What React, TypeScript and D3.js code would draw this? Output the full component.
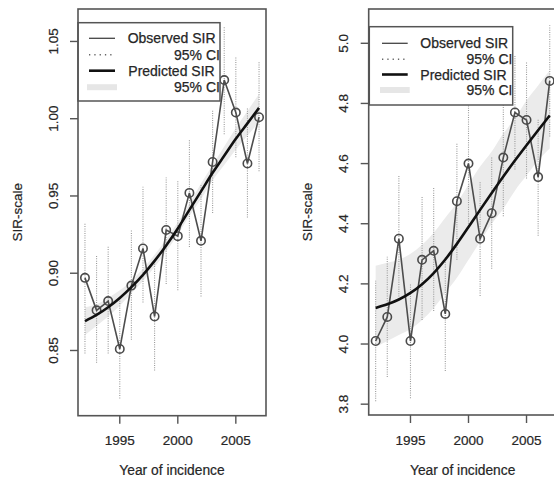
import * as d3 from 'd3';

const years = [1992, 1993, 1994, 1995, 1996, 1997, 1998, 1999, 2000, 2001, 2002, 2003, 2004, 2005, 2006, 2007];
const xTicks = [1995, 2000, 2005];

// left panel
const obsA = [0.897, 0.876, 0.882, 0.851, 0.892, 0.916, 0.872, 0.928, 0.924, 0.952, 0.921, 0.972, 1.025, 1.004, 0.971, 1.001];
const loA = [0.848, 0.842, 0.848, 0.819, 0.857, 0.881, 0.837, 0.893, 0.889, 0.917, 0.885, 0.939, 0.990, 0.975, 0.936, 0.966];
const hiA = [0.932, 0.912, 0.918, 0.883, 0.928, 0.956, 0.908, 0.962, 0.960, 0.986, 0.957, 1.006, 1.060, 1.040, 1.007, 1.037];
const predA = [0.869, 0.873, 0.878, 0.884, 0.891, 0.899, 0.908, 0.918, 0.929, 0.941, 0.953, 0.965, 0.976, 0.987, 0.997, 1.007];
const bandLoA = [0.860, 0.866, 0.872, 0.879, 0.887, 0.895, 0.904, 0.914, 0.925, 0.937, 0.948, 0.960, 0.970, 0.980, 0.989, 0.998];
const bandHiA = [0.878, 0.880, 0.884, 0.889, 0.895, 0.903, 0.912, 0.922, 0.933, 0.945, 0.958, 0.970, 0.982, 0.994, 1.005, 1.016];
const yTicksA = [0.85, 0.9, 0.95, 1.0, 1.05];

// right panel
const obsB = [4.01, 4.09, 4.35, 4.01, 4.28, 4.31, 4.10, 4.475, 4.60, 4.35, 4.435, 4.62, 4.77, 4.745, 4.555, 4.875];
const loB = [3.81, 3.89, 4.15, 3.82, 4.08, 4.11, 3.91, 4.28, 4.40, 4.16, 4.25, 4.425, 4.58, 4.55, 4.36, 4.69];
const hiB = [4.21, 4.29, 4.56, 4.20, 4.49, 4.52, 4.29, 4.67, 4.80, 4.54, 4.62, 4.81, 4.96, 4.94, 4.75, 5.06];
const predB = [4.12, 4.132, 4.148, 4.170, 4.199, 4.236, 4.281, 4.333, 4.389, 4.446, 4.502, 4.557, 4.610, 4.661, 4.711, 4.760];
const bandLoB = [3.99, 4.01, 4.03, 4.05, 4.08, 4.12, 4.17, 4.22, 4.28, 4.34, 4.40, 4.45, 4.51, 4.56, 4.61, 4.65];
const bandHiB = [4.26, 4.27, 4.28, 4.30, 4.33, 4.37, 4.42, 4.47, 4.53, 4.59, 4.64, 4.70, 4.75, 4.81, 4.86, 4.91];
const yTicksB = [3.8, 4.0, 4.2, 4.4, 4.6, 4.8, 5.0];

const legendLabels = ['Observed SIR', '95% CI', 'Predicted SIR', '95% CI'];

const FONT = 'Liberation Sans, Arial, Helvetica, sans-serif';
const TXT = '#262626';
const BOX = '#555';

type PanelProps = {
  id: string;
  x0: number; x1: number; y0: number; y1: number;
  yDomain: [number, number];
  yTicks: number[];
  fmt: string;
  obs: number[]; lo: number[]; hi: number[];
  pred: number[]; bandLo: number[]; bandHi: number[];
  leg: { x0: number; x1: number; y0: number; y1: number; rows: number[]; tx: number[]; sx: [number, number] };
};

function Panel(p: PanelProps) {
  const x = d3.scaleLinear().domain([1991.4, 2007.6]).range([p.x0, p.x1]);
  const y = d3.scaleLinear().domain(p.yDomain).range([p.y1, p.y0]);
  const f = d3.format(p.fmt);
  const idx = years.map((_, i) => i);

  const area = d3.area<number>()
    .x(i => x(years[i]))
    .y0(i => y(p.bandLo[i]))
    .y1(i => y(p.bandHi[i]))
    .curve(d3.curveMonotoneX);
  const predLine = d3.line<number>().x(i => x(years[i])).y(i => y(p.pred[i])).curve(d3.curveMonotoneX);
  const obsLine = d3.line<number>().x(i => x(years[i])).y(i => y(p.obs[i]));

  const cx = (p.x0 + p.x1) / 2;
  const cy = (p.y0 + p.y1) / 2;
  const L = p.leg;

  return (
    <g>
      <defs>
        <clipPath id={`leg-${p.id}`}>
          <rect x={L.x0} y={L.y0} width={L.x1 - L.x0 - 1} height={L.y1 - L.y0} />
        </clipPath>
      </defs>
      <path d={area(idx) || ''} fill="#ebebeb" />
      {idx.map(i => (
        <line key={i} x1={x(years[i])} x2={x(years[i])} y1={y(p.lo[i])} y2={y(p.hi[i])}
          stroke="#9a9a9a" strokeWidth={1.1} strokeDasharray="1,1.3" />
      ))}
      <path d={obsLine(idx) || ''} fill="none" stroke="#4d4d4d" strokeWidth={1.6} />
      {idx.map(i => (
        <circle key={i} cx={x(years[i])} cy={y(p.obs[i])} r={4.2} fill="none" stroke="#4a4a4a" strokeWidth={1.6} />
      ))}
      <path d={predLine(idx) || ''} fill="none" stroke="#111" strokeWidth={2.6} />

      {/* legend */}
      <rect x={L.x0} y={L.y0} width={L.x1 - L.x0} height={L.y1 - L.y0} fill="#fff" stroke={BOX} strokeWidth={1.5} />
      <line x1={L.sx[0]} x2={L.sx[1]} y1={L.rows[0]} y2={L.rows[0]} stroke="#444" strokeWidth={1.3} />
      <line x1={L.sx[0]} x2={L.sx[1]} y1={L.rows[1]} y2={L.rows[1]} stroke="#666" strokeWidth={1.4} strokeDasharray="1.3,4" />
      <line x1={L.sx[0]} x2={L.sx[1]} y1={L.rows[2]} y2={L.rows[2]} stroke="#111" strokeWidth={2.6} />
      <line x1={L.sx[0] - 2} x2={L.sx[1] + 2} y1={L.rows[3]} y2={L.rows[3]} stroke="#e6e6e6" strokeWidth={6} />
      <g clipPath={`url(#leg-${p.id})`}>
        {legendLabels.map((t, i) => (
          <text key={i} x={L.tx[i]} y={L.rows[i]} dominantBaseline="central" fontFamily={FONT}
            fontSize={14} fill={TXT} stroke={TXT} strokeWidth={0.25}>{t}</text>
        ))}
      </g>

      {/* box */}
      <rect x={p.x0} y={p.y0} width={p.x1 - p.x0} height={p.y1 - p.y0} fill="none" stroke={BOX} strokeWidth={1.6} />

      {/* y axis */}
      {p.yTicks.map(t => (
        <g key={t}>
          <line x1={p.x0 - 8} x2={p.x0} y1={y(t)} y2={y(t)} stroke={BOX} strokeWidth={1.4} />
          <text transform={`translate(${p.x0 - 25},${y(t)}) rotate(-90)`} textAnchor="middle"
            dominantBaseline="central" fontFamily={FONT} fontSize={13.5} fill={TXT} stroke={TXT} strokeWidth={0.2}>{f(t)}</text>
        </g>
      ))}
      <text transform={`translate(${p.x0 - 61},${cy}) rotate(-90)`} textAnchor="middle"
        dominantBaseline="central" fontFamily={FONT} fontSize={13.5} fill={TXT} stroke={TXT} strokeWidth={0.2}>SIR-scale</text>

      {/* x axis */}
      {xTicks.map(t => (
        <g key={t}>
          <line x1={x(t)} x2={x(t)} y1={p.y1} y2={p.y1 + 8} stroke={BOX} strokeWidth={1.4} />
          <text x={x(t)} y={p.y1 + 25} textAnchor="middle" dominantBaseline="central"
            fontFamily={FONT} fontSize={13.5} fill={TXT} stroke={TXT} strokeWidth={0.2}>{t}</text>
        </g>
      ))}
      <text x={cx} y={p.y1 + 55} textAnchor="middle" dominantBaseline="central"
        fontFamily={FONT} fontSize={13.8} fill={TXT} stroke={TXT} strokeWidth={0.2}>Year of incidence</text>
    </g>
  );
}

export default function App() {
  return (
    <svg width={554} height={479} style={{ position: 'absolute', left: 0, top: 0, background: '#fff' }}>
      <rect width={554} height={479} fill="#fff" />
      <Panel id="a" x0={78} x1={266} y0={9} y1={415.7} yDomain={[0.8078, 1.071]} yTicks={yTicksA} fmt=".2f"
        obs={obsA} lo={loA} hi={hiA} pred={predA} bandLo={bandLoA} bandHi={bandHiA}
        leg={{ x0: 78, x1: 220, y0: 22.7, y1: 101, rows: [38.3, 54.8, 70.7, 87.2], tx: [127.7, 174, 128.3, 174], sx: [89, 115] }} />
      <Panel id="b" x0={368.7} x1={556.7} y0={9} y1={415} yDomain={[3.764, 5.114]} yTicks={yTicksB} fmt=".1f"
        obs={obsB} lo={loB} hi={hiB} pred={predB} bandLo={bandLoB} bandHi={bandHiB}
        leg={{ x0: 369.3, x1: 512.7, y0: 26.7, y1: 105, rows: [43.3, 59.3, 74.5, 90], tx: [420.3, 466.5, 420.3, 466.5], sx: [382, 407.7] }} />
    </svg>
  );
}
